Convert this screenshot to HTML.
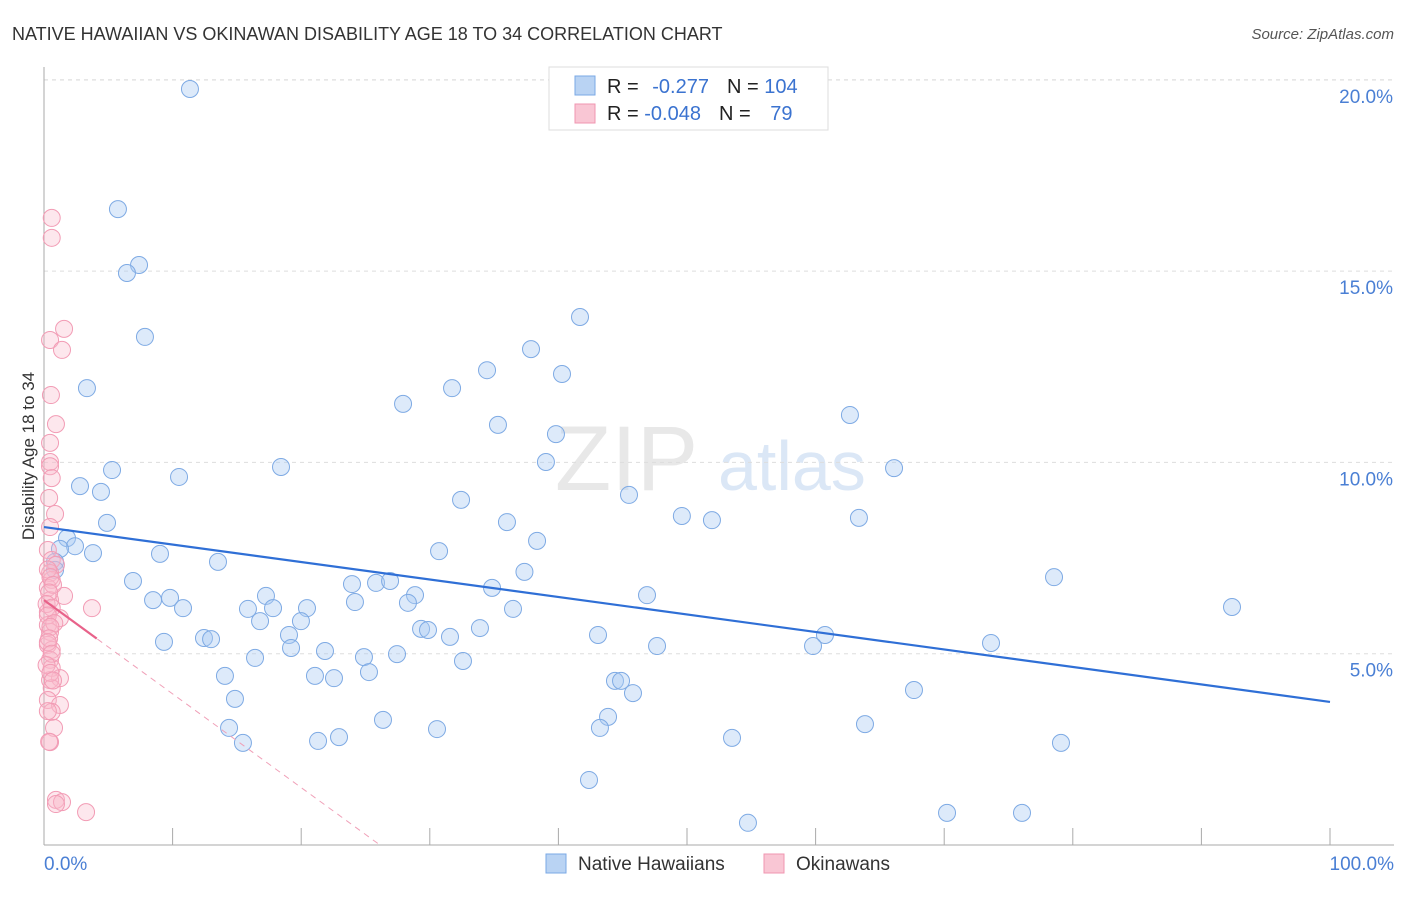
<!DOCTYPE html>
<html><head><meta charset="utf-8"><style>
body{margin:0;background:#fff;font-family:"Liberation Sans",sans-serif;}
svg text{font-family:"Liberation Sans",sans-serif;}
</style></head><body>
<svg id="chart" width="1406" height="892" xmlns="http://www.w3.org/2000/svg">
<text x="12" y="40" font-size="18" fill="#333">NATIVE HAWAIIAN VS OKINAWAN DISABILITY AGE 18 TO 34 CORRELATION CHART</text>
<text x="1394" y="39" font-size="15" fill="#555" font-style="italic" text-anchor="end">Source: ZipAtlas.com</text>
<text x="34" y="456" font-size="17" fill="#333" text-anchor="middle" transform="rotate(-90 34 456)">Disability Age 18 to 34</text>
<text x="555" y="490" font-size="92" fill="#e8e8e8" font-family="Liberation Serif">ZIP</text>
<text x="718" y="490" font-size="70" fill="#dbe7f6">atlas</text>
<g id="grid"></g><g id="marks"></g>
<g>
<rect x="549" y="67" width="279" height="63" fill="#fff" stroke="#ddd"/>
<rect x="575" y="76" width="20" height="19" fill="#b9d3f3" stroke="#7aa8e6"/>
<rect x="575" y="104" width="20" height="19" fill="#f9c6d4" stroke="#f096b0"/>
<text x="607" y="93" font-size="20" fill="#222">R = <tspan fill="#3b73d0" dx="8">-0.277</tspan><tspan dx="18" fill="#222">N = </tspan><tspan fill="#3b73d0">104</tspan></text>
<text x="607" y="120" font-size="20" fill="#222">R = <tspan fill="#3b73d0">-0.048</tspan><tspan dx="18" fill="#222">N = </tspan><tspan fill="#3b73d0" dx="14">79</tspan></text>
</g>
<g>
<rect x="546" y="854" width="20" height="19" fill="#b9d3f3" stroke="#7aa8e6"/>
<text x="578" y="870" font-size="19" fill="#333">Native Hawaiians</text>
<rect x="764" y="854" width="20" height="19" fill="#f9c6d4" stroke="#f096b0"/>
<text x="796" y="870" font-size="19" fill="#333">Okinawans</text>
</g>
</svg>
<script>
const yTicks=[5,10,15,20];
const xTickLabels=["0.0%","100.0%"];
const blueX=[11.35,5.75,7.39,6.45,7.85,3.34,41.68,37.87,34.45,40.28,31.73,27.92,62.67,35.3,39.81,39.03,18.43,66.1,5.29,10.5,2.8,4.43,45.49,32.43,49.6,51.94,63.37,36.0,4.9,1.79,38.34,2.41,1.24,3.81,30.72,9.02,13.53,0.86,0.86,37.36,78.54,6.92,23.95,25.82,26.91,34.84,17.26,8.48,9.8,46.89,28.85,24.18,28.3,10.81,15.86,17.81,20.45,36.47,92.38,19.98,16.8,29.32,29.86,33.9,31.57,19.05,43.08,60.73,12.44,12.99,9.33,59.8,47.67,73.64,19.21,21.85,27.45,16.41,24.88,32.58,25.27,14.07,21.07,22.55,44.4,44.87,45.8,67.65,14.85,26.36,43.86,43.23,14.39,30.56,63.84,22.94,21.31,15.47,53.5,79.08,42.38,70.22,76.05,54.74];
const blueY=[19.76,16.62,15.16,14.95,13.28,11.94,13.8,12.96,12.41,12.31,11.94,11.53,11.24,10.98,10.74,10.01,9.88,9.85,9.8,9.62,9.38,9.23,9.15,9.02,8.6,8.49,8.55,8.44,8.42,8.02,7.95,7.81,7.74,7.63,7.68,7.61,7.4,7.4,7.19,7.14,7.0,6.9,6.82,6.85,6.9,6.72,6.51,6.4,6.46,6.53,6.53,6.35,6.33,6.19,6.17,6.19,6.19,6.17,6.22,5.85,5.85,5.65,5.62,5.67,5.44,5.49,5.49,5.49,5.41,5.38,5.31,5.2,5.2,5.28,5.15,5.07,4.99,4.89,4.91,4.81,4.52,4.42,4.42,4.36,4.29,4.29,3.97,4.05,3.82,3.27,3.35,3.06,3.06,3.03,3.16,2.82,2.72,2.67,2.8,2.67,1.7,0.84,0.84,0.58];
const pinkX=[0.6,0.6,1.56,0.47,1.4,0.54,0.93,0.47,0.47,0.47,0.6,0.4,0.86,0.47,0.3,0.6,0.93,0.47,0.6,0.3,1.56,3.73,0.47,0.3,1.24,0.3,0.47,0.3,0.6,0.47,0.6,1.24,0.47,0.6,0.3,1.24,0.6,0.78,0.47,0.93,1.4,0.93,3.27,0.3,0.5,0.7,0.4,0.2,0.6,0.3,0.8,0.5,0.4,0.3,0.6,0.2,0.5,0.7,0.3,0.4];
const pinkY=[16.39,15.87,13.49,13.2,12.94,11.76,11.0,10.51,10.01,9.9,9.59,9.07,8.65,8.31,7.71,7.45,7.32,7.11,6.93,6.72,6.51,6.19,6.4,6.09,5.93,5.75,5.57,5.23,5.1,4.84,4.63,4.36,4.31,4.1,3.79,3.66,3.48,3.06,2.69,1.18,1.12,1.07,0.86,7.2,7.0,6.8,6.6,6.3,6.2,6.0,5.8,5.7,5.4,5.3,5.0,4.7,4.5,4.3,3.5,2.7];
const blueFit=[8.31,3.74];
const pinkFit=[6.4,-0.245,4.1];
const X=v=>44+v*12.86, Y=v=>845-v*38.26;
const ns="http://www.w3.org/2000/svg";
const grid=document.getElementById('grid'), marks=document.getElementById('marks');
function mk(tag,attrs,parent){const e=document.createElementNS(ns,tag);for(const k in attrs)e.setAttribute(k,attrs[k]);parent.appendChild(e);return e;}
yTicks.forEach(t=>{
 const l=mk('line',{x1:44,x2:1394,y1:Y(t),y2:Y(t),stroke:'#ddd','stroke-dasharray':'4 4'},grid);
 
 
 const tx=mk('text',{x:1393,y:Y(t)+23,'font-size':19,fill:'#4a7fd4','text-anchor':'end'},grid);
 tx.textContent=t.toFixed(1)+'%';
 
 
});
mk('line',{x1:44,x2:1394,y1:80,y2:80,stroke:'#ddd','stroke-dasharray':'4 4'},grid);
mk('line',{x1:44,x2:44,y1:67,y2:845,stroke:'#aaa'},grid);
mk('line',{x1:44,x2:1394,y1:845,y2:845,stroke:'#aaa'},grid);
for(let i=0;i<=10;i++){const t=mk('line',{x1:X(i*10),x2:X(i*10),y1:828,y2:845,stroke:'#aaa'},grid);}
const xl0=mk('text',{x:44,y:870,'font-size':19,fill:'#4a7fd4'},grid);xl0.textContent=xTickLabels[0];


const xl1=mk('text',{x:1394,y:870,'font-size':19,fill:'#4a7fd4','text-anchor':'end'},grid);xl1.textContent=xTickLabels[1];


blueX.forEach((x,i)=>{const c=mk('circle',{cx:X(x),cy:Y(blueY[i]),r:8.5,fill:'rgba(170,202,242,0.4)',stroke:'#7eaae4','stroke-width':1},marks);
 
 });
pinkX.forEach((x,i)=>{const c=mk('circle',{cx:X(x),cy:Y(pinkY[i]),r:8.5,fill:'rgba(248,186,204,0.35)',stroke:'#f29cb5','stroke-width':1},marks);
 
 });
const bl=mk('line',{x1:X(0),y1:Y(blueFit[0]),x2:X(100),y2:Y(blueFit[1]),stroke:'#2f6fd6','stroke-width':2.2},marks);


const xEnd=-pinkFit[0]/pinkFit[1];
const pd=mk('line',{x1:X(0),y1:Y(pinkFit[0]),x2:X(xEnd),y2:Y(0),stroke:'#f0a0b8','stroke-width':1,'stroke-dasharray':'6 5'},marks);


const ps=mk('line',{x1:X(0),y1:Y(pinkFit[0]),x2:X(pinkFit[2]),y2:Y(pinkFit[0]+pinkFit[1]*pinkFit[2]),stroke:'#e8628a','stroke-width':2.2},marks);


</script>
</body></html>
